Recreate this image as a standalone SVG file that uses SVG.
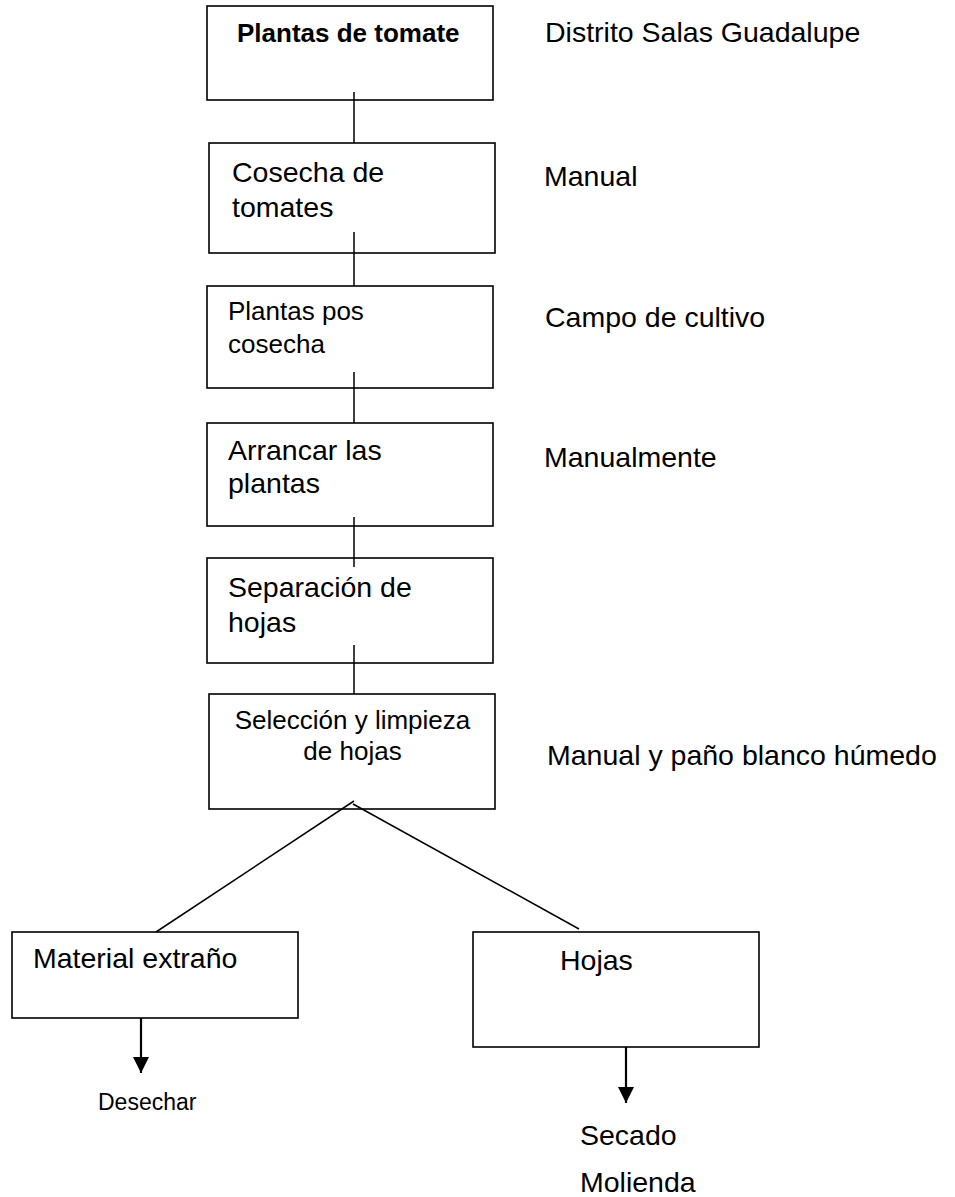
<svg xmlns="http://www.w3.org/2000/svg" width="955" height="1197" viewBox="0 0 955 1197">
<style>
.box{fill:#fff;stroke:#000;stroke-width:1.6}
.ln{stroke:#000;stroke-width:1.5;fill:none}
.ar{stroke:#000;stroke-width:2.2;fill:none}
text{font-family:"Liberation Sans",Arial,sans-serif;fill:#000}
.t{font-size:28.5px}
.s{font-size:26px}
.b{font-size:26px;font-weight:bold}
.d{font-size:23px}
</style>
<defs>
<marker id="ah2" viewBox="0 0 16 16" refX="16" refY="8" markerWidth="16" markerHeight="16" orient="auto" markerUnits="userSpaceOnUse">
<path d="M0,0 L16,8 L0,16 z" fill="#000"/>
</marker>
</defs>
<rect width="955" height="1197" fill="#fff"/>
<g id="n1">
<rect class="box" x="207" y="6" width="286" height="94"/>
<text class="b" x="237" y="42">Plantas de tomate</text>
</g>
<g id="n2">
<rect class="box" x="209" y="143" width="286" height="110"/>
<text class="t" x="232" y="182">Cosecha de</text>
<text class="t" x="232" y="217">tomates</text>
</g>
<g id="n3">
<rect class="box" x="207" y="286" width="286" height="102"/>
<text class="s" x="228" y="320">Plantas pos</text>
<text class="s" x="228" y="353">cosecha</text>
</g>
<g id="n4">
<rect class="box" x="207" y="423" width="286" height="103"/>
<text class="t" x="228" y="460">Arrancar las</text>
<text class="t" x="228" y="493">plantas</text>
</g>
<g id="n5">
<rect class="box" x="207" y="558" width="286" height="105"/>
<text class="t" x="228" y="597">Separación de</text>
<text class="t" x="228" y="632">hojas</text>
</g>
<g id="n6">
<rect class="box" x="209" y="694" width="286" height="115"/>
<text class="s" x="352.5" y="729" text-anchor="middle">Selección y limpieza</text>
<text class="s" x="352.5" y="760" text-anchor="middle">de hojas</text>
</g>
<g id="n7">
<rect class="box" x="12" y="932" width="286" height="86"/>
<text class="t" x="33" y="968">Material extraño</text>
</g>
<g id="n8">
<rect class="box" x="473" y="932" width="286" height="115"/>
<text class="t" x="560" y="970">Hojas</text>
</g>
<g id="connectors">
<line class="ln" x1="354" y1="92" x2="354" y2="143"/>
<line class="ln" x1="354" y1="232" x2="354" y2="286"/>
<line class="ln" x1="354" y1="372" x2="354" y2="423"/>
<line class="ln" x1="354" y1="517" x2="354" y2="567"/>
<line class="ln" x1="354" y1="645" x2="354" y2="694"/>
<line class="ln" x1="354" y1="801" x2="156" y2="932"/>
<line class="ln" x1="353" y1="804" x2="579" y2="929"/>
<line class="ar" x1="141" y1="1018" x2="141" y2="1073" marker-end="url(#ah2)"/>
<line class="ar" x1="626" y1="1047" x2="626" y2="1103" marker-end="url(#ah2)"/>
</g>
<g id="labels">
<text class="t" x="545" y="42">Distrito Salas Guadalupe</text>
<text class="t" x="544" y="186">Manual</text>
<text class="t" x="545" y="327">Campo de cultivo</text>
<text class="t" x="544" y="467">Manualmente</text>
<text class="t" x="547" y="765">Manual y paño blanco húmedo</text>
<text class="d" x="98" y="1110">Desechar</text>
<text class="t" x="580" y="1145">Secado</text>
<text class="t" x="580" y="1192">Molienda</text>
</g>
</svg>
